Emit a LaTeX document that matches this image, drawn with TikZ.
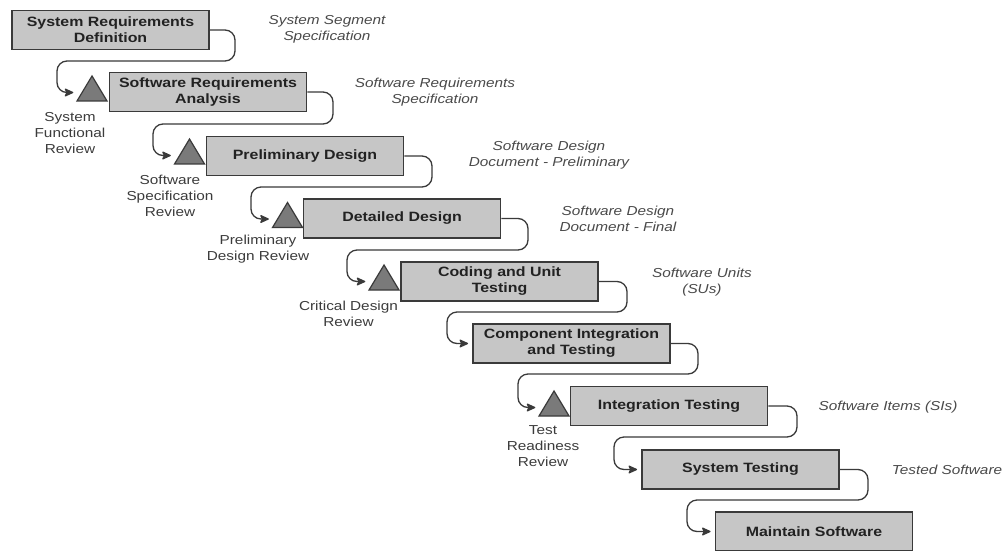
\documentclass[tikz,border=0pt]{standalone}
\usepackage{fontspec}
\setmainfont{Liberation Sans}[FakeStretch=1.18]
\usetikzlibrary{shapes.geometric,arrows.meta,calc}
\definecolor{boxfill}{HTML}{C6C6C6}
\definecolor{boxline}{HTML}{3A3A3A}
\definecolor{trifill}{HTML}{7A7A7A}
\definecolor{connline}{HTML}{3A3A3A}
\definecolor{boxtext}{HTML}{222222}
\definecolor{labeltext}{HTML}{3C3C3C}
\definecolor{prodtext}{HTML}{4A4A4A}
\begin{document}
\begin{tikzpicture}[x=1pt,y=-1pt,
  stage/.style={draw=boxline, fill=boxfill, line width=1.8pt, minimum width=197pt,
    minimum height=39pt, inner sep=0pt, align=center, text=boxtext,
    font=\bfseries\fontsize{13.5}{16}\selectfont},
  milestone/.style={isosceles triangle, shape border rotate=90, isosceles triangle stretches,
    draw=boxline, fill=trifill, line width=1.2pt, minimum width=30pt, minimum height=25pt, inner sep=0pt},
  review/.style={align=center, inner sep=0pt, text=labeltext, font=\fontsize{13}{16}\selectfont},
  product/.style={align=center, inner sep=0pt, text=prodtext, font=\itshape\fontsize{13}{16}\selectfont},
  conn/.style={draw=connline, line width=1.3pt, rounded corners=10pt,
    -{Stealth[length=10pt,width=9pt,inset=2pt,round]}, shorten >=4pt},
  conntri/.style={conn, shorten >=8pt}
]
\fill[white] (0,0) rectangle (1005,550);
\useasboundingbox (0,0) rectangle (1005,550);

% stages
\node[stage] (b1) at (110.5,30)  {System Requirements\\Definition};
\node[stage] (b2) at (208,92)    {Software Requirements\\Analysis};
\node[stage] (b3) at (305,156)   {Preliminary Design};
\node[stage] (b4) at (402,218.5) {Detailed Design};
\node[stage] (b5) at (499.5,281.5) {Coding and Unit\\Testing};
\node[stage] (b6) at (571.5,343.5) {Component Integration\\and Testing};
\node[stage] (b7) at (669,406)   {Integration Testing};
\node[stage] (b8) at (740.5,469.5) {System Testing};
\node[stage] (b9) at (814,531.5) {Maintain Software};

% milestones
\node[milestone] (t1) at (92,92.5)    {};
\node[milestone] (t2) at (189.5,155.5) {};
\node[milestone] (t3) at (287.5,219)  {};
\node[milestone] (t4) at (384,281.5)  {};
\node[milestone] (t5) at (554,407.5)  {};

% review labels
\node[review] (r1) at (70,133)    {System\\Functional\\Review};
\node[review] (r2) at (170,196)   {Software\\Specification\\Review};
\node[review] (r3) at (258,249)   {Preliminary\\Design Review};
\node[review] (r4) at (348.5,313.5) {Critical Design\\Review};
\node[review] (r5) at (543,446.5) {Test\\Readiness\\Review};

% products
\node[product] (p1) at (327,29.5)  {System Segment\\Specification};
\node[product] (p2) at (435,92.5)  {Software Requirements\\Specification};
\node[product] (p3) at (549,155.5) {Software Design\\Document - Preliminary};
\node[product] (p4) at (618,218.5) {Software Design\\Document - Final};
\node[product] (p5) at (702,282)   {Software Units\\(SUs)};
\node[product] (p6) at (888,407)   {Software Items (SIs)};
\node[product] (p7) at (947,470)   {Tested Software};

% connectors
\draw[conntri] (b1.east) -| (235,61)  -| (57,0 |- t1.west)  -- (t1.west);
\draw[conntri] (b2.east) -| (333,124) -| (153,0 |- t2.west) -- (t2.west);
\draw[conntri] (b3.east) -| (432,187) -| (251,0 |- t3.west) -- (t3.west);
\draw[conntri] (b4.east) -| (528,250) -| (347,0 |- t4.west) -- (t4.west);
\draw[conn]    (b5.east) -| (627,312) -| (447,0 |- b6.west) -- (b6.west);
\draw[conntri] (b6.east) -| (698,374) -| (518,0 |- t5.west) -- (t5.west);
\draw[conn]    (b7.east) -| (797,437) -| (614,0 |- b8.west) -- (b8.west);
\draw[conn]    (b8.east) -| (868,500) -| (687,0 |- b9.west) -- (b9.west);
\end{tikzpicture}
\end{document}
